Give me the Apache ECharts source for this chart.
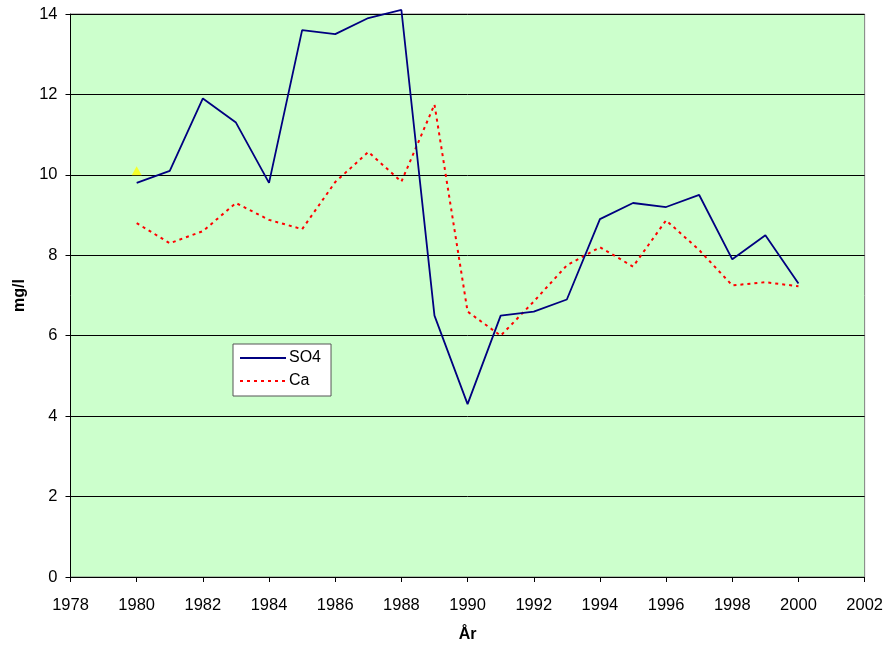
<!DOCTYPE html>
<html>
<head>
<meta charset="utf-8">
<script src="https://cdn.jsdelivr.net/npm/echarts@6/dist/echarts.min.js"></script>
<style>
html,body{margin:0;padding:0;background:#fff;}
#c{width:886px;height:648px;}
</style>
</head>
<body>
<div id="c"></div>
<script>
const years = [1980,1981,1982,1983,1984,1985,1986,1987,1988,1989,1990,1991,1992,1993,1994,1995,1996,1997,1998,1999,2000];
const so4 = [9.8,10.1,11.9,11.3,9.8,13.6,13.5,13.9,14.1,6.5,4.3,6.5,6.6,6.9,8.9,9.3,9.2,9.5,7.9,8.5,7.3];
const ca = [8.8,8.3,8.6,9.3,8.88,8.65,9.82,10.57,9.83,11.75,6.6,6.0,6.85,7.75,8.2,7.72,8.87,8.13,7.25,7.33,7.23];
const marker = [[1980,10.1]];
const xTicks = {min:1978, max:2002, step:2};
const yTicks = {min:0, max:14, step:2};

const pair = (xs, ys) => xs.map((x,i)=>[x, ys[i]]);
const font = 'Arial, "Liberation Sans", sans-serif';

const chart = echarts.init(document.getElementById('c'));
chart.setOption({
  animation:false,
  backgroundColor:'#ffffff',
  grid:{left:70.5, right:19, top:14, bottom:70.5, show:true, backgroundColor:'#ccffcc', borderColor:'#808080', borderWidth:1},
  legend:{
    data:['SO4','Ca'], orient:'vertical', left:233, top:344,
    backgroundColor:'#ffffff', borderColor:'#555555', borderWidth:1,
    padding:[6,10,7,6], itemGap:7, itemWidth:46, itemHeight:14,
    itemStyle:{opacity:0},
    textStyle:{fontFamily:font, fontSize:16, color:'#000', padding:[0,0,0,-2]}
  },
  xAxis:{
    type:'value', min:xTicks.min, max:xTicks.max, interval:xTicks.step,
    name:'År', nameLocation:'middle', nameGap:50,
    nameTextStyle:{fontFamily:font, fontSize:16, fontWeight:'bold', color:'#000'},
    axisLine:{show:true, onZero:false, lineStyle:{color:'#000', width:1}},
    axisTick:{show:true, inside:false, length:5, lineStyle:{color:'#000'}},
    axisLabel:{fontFamily:font, fontSize:16.5, color:'#000', margin:20, formatter:v=>String(v)},
    splitLine:{show:false}
  },
  yAxis:{
    type:'value', min:yTicks.min, max:yTicks.max, interval:yTicks.step,
    name:'mg/l', nameLocation:'middle', nameGap:43,
    nameTextStyle:{fontFamily:font, fontSize:16, fontWeight:'bold', color:'#000'},
    axisLine:{show:true, lineStyle:{color:'#000', width:1}},
    axisTick:{show:true, inside:false, length:5, lineStyle:{color:'#000'}},
    axisLabel:{fontFamily:font, fontSize:16.5, color:'#000', margin:13},
    splitLine:{show:true, lineStyle:{color:'#000', width:1}}
  },
  series:[
    {name:'SO4', type:'line', data:pair(years, so4), symbol:'none', clip:false,
     lineStyle:{color:'#000080', width:1.8}, itemStyle:{color:'#000080'}, z:3},
    {name:'Ca', type:'line', data:pair(years, ca), symbol:'none', clip:false,
     lineStyle:{color:'#ff0000', width:2, type:[3,4]}, itemStyle:{color:'#ff0000'}, z:2},
    {name:'marker', type:'scatter', data:marker, symbol:'triangle', symbolSize:[10,9],
     itemStyle:{color:'#ffff00'}, z:1}
  ]
});
</script>
</body>
</html>
